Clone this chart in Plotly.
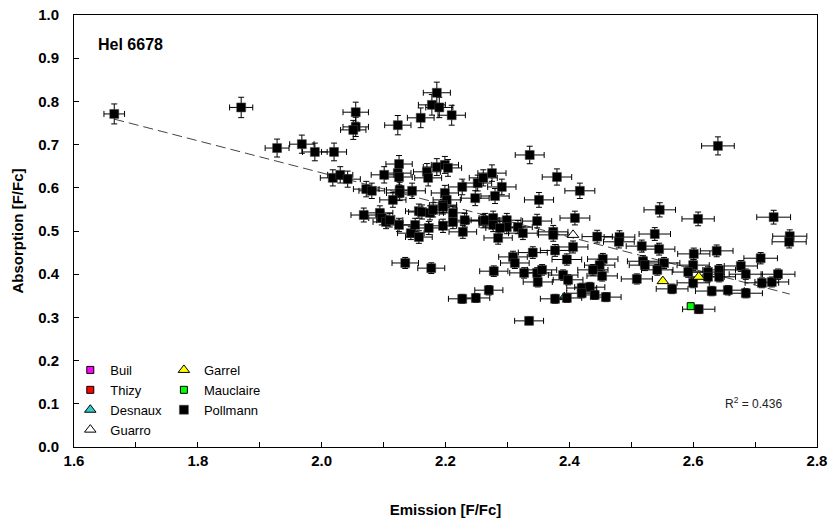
import plotly.graph_objects as go

# Pollmann data (Emission, Absorption)
poll_x = [1.665, 1.870, 1.928, 1.968, 1.989, 2.020, 2.018, 2.030, 2.042, 2.055, 2.055, 2.051,
          2.123, 2.072, 2.081, 2.101, 2.125, 2.123, 2.125, 2.126, 2.126, 2.146, 2.115, 2.157,
          2.068, 2.094, 2.097, 2.104, 2.110, 2.125, 2.144, 2.151, 2.157, 2.135, 2.177, 2.160,
          2.178, 2.186, 2.190, 2.210, 2.170, 2.172, 2.186, 2.199, 2.204, 2.227, 2.252, 2.261,
          2.275, 2.248, 2.199, 2.202, 2.196, 2.162, 2.175, 2.180, 2.196, 2.212, 2.212, 2.231,
          2.261, 2.173, 2.196, 2.228, 2.291, 2.280, 2.336, 2.380, 2.417, 2.351, 2.264, 2.277,
          2.277, 2.299, 2.299, 2.288, 2.285, 2.317, 2.325, 2.348, 2.374, 2.374, 2.409, 2.445,
          2.481, 2.480, 2.406, 2.377, 2.341, 2.396, 2.309, 2.312, 2.278, 2.327, 2.348, 2.356,
          2.349, 2.390, 2.398, 2.420, 2.433, 2.420, 2.441, 2.459, 2.270, 2.227, 2.249, 2.377,
          2.396, 2.335, 2.454, 2.449, 2.438, 2.453, 2.538, 2.517, 2.545, 2.601, 2.638, 2.709,
          2.519, 2.522, 2.553, 2.542, 2.600, 2.592, 2.624, 2.642, 2.624, 2.642, 2.677, 2.685,
          2.711, 2.727, 2.737, 2.509, 2.566, 2.600, 2.630, 2.656, 2.685, 2.609, 2.640, 2.546,
          2.608, 2.730, 2.756, 2.755]
poll_y = [0.771, 0.786, 0.692, 0.701, 0.683, 0.683, 0.623, 0.630, 0.620, 0.775, 0.741, 0.734,
          0.745, 0.597, 0.593, 0.630, 0.655, 0.634, 0.625, 0.595, 0.588, 0.593, 0.572, 0.546,
          0.537, 0.542, 0.530, 0.521, 0.525, 0.514, 0.495, 0.514, 0.486, 0.426, 0.414, 0.762,
          0.792, 0.820, 0.786, 0.768, 0.637, 0.623, 0.648, 0.653, 0.646, 0.602, 0.611, 0.623,
          0.634, 0.576, 0.588, 0.572, 0.560, 0.544, 0.542, 0.549, 0.556, 0.542, 0.521, 0.525,
          0.523, 0.507, 0.512, 0.498, 0.602, 0.581, 0.676, 0.625, 0.593, 0.572, 0.525, 0.530,
          0.514, 0.525, 0.509, 0.507, 0.484, 0.509, 0.495, 0.523, 0.498, 0.491, 0.530, 0.487,
          0.486, 0.475, 0.463, 0.455, 0.450, 0.434, 0.440, 0.426, 0.407, 0.403, 0.403, 0.410,
          0.382, 0.398, 0.387, 0.368, 0.370, 0.356, 0.352, 0.347, 0.363, 0.343, 0.345, 0.343,
          0.345, 0.292, 0.435, 0.421, 0.410, 0.396, 0.493, 0.465, 0.458, 0.447, 0.454, 0.437,
          0.430, 0.421, 0.426, 0.410, 0.421, 0.405, 0.405, 0.410, 0.394, 0.394, 0.419, 0.400,
          0.380, 0.382, 0.400, 0.389, 0.366, 0.380, 0.361, 0.363, 0.356, 0.319, 0.697, 0.549,
          0.528, 0.532, 0.488, 0.475]

garrel_x = [2.551, 2.609]
garrel_y = [0.384, 0.394]
mauclaire_x = [2.596]
mauclaire_y = [0.326]
guarro_x = [2.406]
guarro_y = [0.491]
desnaux_x = [2.392]
desnaux_y = [0.347]

trend_x = [1.665, 2.756]
trend_y = [0.759, 0.354]

x_ticks = [1.6, 1.8, 2.0, 2.2, 2.4, 2.6, 2.8]
y_ticks = [0.0, 0.1, 0.2, 0.3, 0.4, 0.5, 0.6, 0.7, 0.8, 0.9, 1.0]

FONT = "Liberation Sans, Arial, sans-serif"

fig = go.Figure()

# trend line
fig.add_trace(go.Scatter(x=trend_x, y=trend_y, mode="lines", showlegend=False,
                         line=dict(color="#444444", width=1, dash="10px,5px"),
                         hoverinfo="skip"))

# legend-only / hidden series
fig.add_trace(go.Scatter(x=[None], y=[None], mode="markers", name="Buil", legend="legend",
                         legendrank=1,
                         marker=dict(symbol="square", size=7, color="#ff00ff",
                                     line=dict(color="black", width=1))))
fig.add_trace(go.Scatter(x=[None], y=[None], mode="markers", name="Thizy", legend="legend",
                         legendrank=2,
                         marker=dict(symbol="square", size=7, color="#ff0000",
                                     line=dict(color="black", width=1))))
fig.add_trace(go.Scatter(x=desnaux_x, y=desnaux_y, mode="markers", name="Desnaux",
                         legend="legend", legendrank=3,
                         marker=dict(symbol="triangle-up", size=10, color="#33cccc",
                                     line=dict(color="black", width=1))))

err_x = dict(type="percent", value=1, color="black", thickness=1, width=3)
err_y = dict(type="percent", value=3, color="black", thickness=1, width=3)
fig.add_trace(go.Scatter(x=poll_x, y=poll_y, mode="markers", name="Pollmann",
                         legend="legend2", legendrank=3,
                         error_x=err_x, error_y=err_y,
                         marker=dict(symbol="square", size=9, color="black",
                                     line=dict(color="#444444", width=0.5))))

fig.add_trace(go.Scatter(x=guarro_x, y=guarro_y, mode="markers", name="Guarro",
                         legend="legend", legendrank=4,
                         marker=dict(symbol="triangle-up", size=10, color="white",
                                     line=dict(color="black", width=1))))
fig.add_trace(go.Scatter(x=garrel_x, y=garrel_y, mode="markers", name="Garrel",
                         legend="legend2", legendrank=1,
                         marker=dict(symbol="triangle-up", size=10, color="#ffff00",
                                     line=dict(color="black", width=1))))
fig.add_trace(go.Scatter(x=mauclaire_x, y=mauclaire_y, mode="markers", name="Mauclaire",
                         legend="legend2", legendrank=2,
                         marker=dict(symbol="square", size=7, color="#00ff00",
                                     line=dict(color="black", width=1))))

legend_common = dict(font=dict(family=FONT, size=13, color="black"),
                     bgcolor="rgba(0,0,0,0)", tracegroupgap=0, itemwidth=30,
                     xanchor="left", yanchor="top", traceorder="normal")

fig.update_layout(
    width=833, height=521,
    margin=dict(l=74, r=16, t=15, b=74),
    plot_bgcolor="white", paper_bgcolor="white",
    font=dict(family=FONT, size=15, color="black"),
    legend=dict(x=-0.005, y=0.213, **legend_common),
    legend2=dict(x=0.121, y=0.213, **legend_common),
    xaxis=dict(range=[1.6, 2.8], tickvals=x_ticks, ticktext=[f"{v:.1f}" for v in x_ticks],
               automargin=False,
               ticks="inside", ticklen=5, tickcolor="black",
               minor=dict(dtick=0.1, ticks="inside", ticklen=5, tickcolor="black"),
               showline=True, linecolor="black", linewidth=1, mirror=True,
               showgrid=False, zeroline=False,
               tickfont=dict(family=FONT, size=15, color="black", weight="bold"),
               title=dict(text="<b>Emission [F/Fc]</b>", standoff=36,
                          font=dict(family=FONT, size=15, color="black"))),
    yaxis=dict(range=[0.0, 1.0], tickvals=y_ticks, ticktext=[f"{v:.1f}" for v in y_ticks],
               automargin=False,
               ticks="inside", ticklen=5, tickcolor="black", ticklabelstandoff=11,
               showline=True, linecolor="black", linewidth=1, mirror=True,
               showgrid=False, zeroline=False,
               tickfont=dict(family=FONT, size=15, color="black", weight="bold"),
               title=dict(text="<b>Absorption [F/Fc]</b>", standoff=10,
                          font=dict(family=FONT, size=15, color="black"))),
    annotations=[
        dict(text="<b>Hel 6678</b>", xref="paper", yref="paper", x=0.030, y=0.932,
             xanchor="left", yanchor="middle", showarrow=False,
             font=dict(family=FONT, size=16, color="black")),
        dict(text="R<sup>2</sup> = 0.436", xref="paper", yref="paper", x=0.914, y=0.102,
             xanchor="center", yanchor="middle", showarrow=False,
             font=dict(family=FONT, size=12, color="#222222")),
    ],
)

fig.write_html("out.html")
